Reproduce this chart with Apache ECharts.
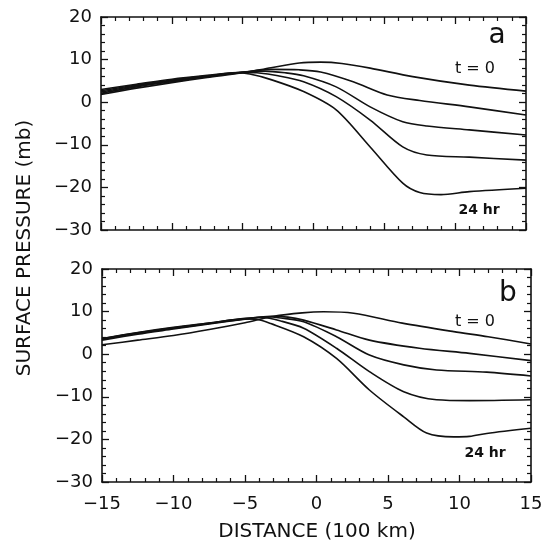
<!DOCTYPE html>
<html>
<head>
<meta charset="utf-8">
<script src="https://cdn.jsdelivr.net/npm/echarts@6/dist/echarts.min.js"></script>
<style>
html,body{margin:0;padding:0;background:#fff;}
#chart{width:551px;height:544px;}
</style>
</head>
<body>
<div id="chart"></div>
<script>
// Panel (a) curves: [distance (100 km), surface pressure (mb)]
const aT0  = [[-15,1.8],[-12.5,3.3],[-10,4.6],[-7.5,5.8],[-5,6.9],[-3,8.1],[-1,9.2],[0.5,9.4],[2,9.1],[4,8.0],[7,6.0],[11,4.0],[15,2.6]];
const aT6  = [[-15,2.1],[-12.5,3.6],[-10,4.8],[-7.5,6.0],[-5,7.0],[-3,7.7],[-1,7.6],[0.5,7.1],[2.8,4.8],[5.2,1.7],[7.5,0.4],[11,-1.1],[15,-3.0]];
const aT12 = [[-15,2.4],[-12.5,3.8],[-10,5.0],[-7.5,6.1],[-5,7.1],[-3.5,7.3],[-2,6.9],[-0.7,6.2],[1.6,3.6],[4,-1.1],[6.3,-4.6],[8,-5.6],[11,-6.5],[15,-7.7]];
const aT18 = [[-15,2.7],[-12.5,4.0],[-10,5.2],[-7.5,6.2],[-5,7.0],[-4,6.9],[-2.5,6.2],[-0.7,4.8],[1.6,1.3],[4,-4.2],[6.3,-10.5],[8,-12.4],[11,-12.9],[15,-13.6]];
const aT24 = [[-15,3.0],[-12.5,4.2],[-10,5.4],[-7.5,6.3],[-5.5,6.9],[-4.5,6.6],[-3,5.3],[-0.7,2.5],[1.6,-1.8],[4,-10.5],[6.3,-19.0],[7.5,-21.2],[9,-21.7],[11,-21.0],[15,-20.2]];

// Panel (b) curves
const bT0  = [[-15,2.2],[-12.5,3.3],[-10,4.4],[-7.5,5.8],[-5,7.4],[-3,8.9],[-1,9.7],[0.5,9.95],[2.6,9.6],[6,7.3],[9.6,5.3],[12,4.1],[15,2.4]];
const bT6  = [[-15,3.3],[-12.5,4.7],[-10,5.9],[-7.5,7.1],[-5,8.2],[-3.2,8.9],[-2,8.7],[-0.9,8.0],[1.4,5.7],[3.7,3.3],[7.2,1.4],[10.7,0.2],[15,-1.5]];
const bT12 = [[-15,3.5],[-12.5,4.9],[-10,6.1],[-7.5,7.2],[-5,8.3],[-3.5,8.8],[-2.5,8.5],[-0.9,7.6],[1.4,4.1],[3.7,-0.2],[6.1,-2.5],[8.4,-3.7],[11.9,-4.2],[15,-5.1]];
const bT18 = [[-15,3.6],[-12.5,5.0],[-10,6.2],[-7.5,7.3],[-5,8.4],[-3.8,8.6],[-2.5,7.8],[-0.9,6.1],[1.4,1.4],[3.7,-4.1],[6.1,-8.8],[8.4,-10.7],[10.7,-10.9],[15,-10.7]];
const bT24 = [[-15,3.7],[-12.5,5.1],[-10,6.3],[-7.5,7.3],[-5,8.3],[-4.2,8.2],[-3.2,7.2],[-0.9,4.1],[1.4,-1.0],[3.7,-8.4],[6.1,-14.7],[7.7,-18.5],[9.6,-19.4],[10.7,-19.3],[11.9,-18.6],[15,-17.4]];

const xRange = {min: -15, max: 15, interval: 5};
const yRange = {min: -30, max: 20, interval: 10};
const panelLabels = ['a', 'b'];
const startLabel = 't = 0';
const endLabel = '24 hr';
const xTitle = 'DISTANCE (100 km)';
const yTitle = 'SURFACE PRESSURE (mb)';

const INK = '#111';
const FONT = 'DejaVu Sans';
const fmt = v => String(v).replace('-', '\u2212');

function xAx(grid, pos, showLabel) {
  return {
    type: 'value', gridIndex: grid, position: pos,
    min: xRange.min, max: xRange.max, interval: xRange.interval,
    axisLine: {show: true, onZero: false, lineStyle: {color: INK, width: 1.6}},
    axisTick: {show: true, inside: true, length: 7, lineStyle: {color: INK, width: 1.3}},
    minorTick: {show: true, splitNumber: 5, length: 4, lineStyle: {color: INK, width: 1.2}},
    splitLine: {show: false},
    axisLabel: {show: showLabel, formatter: fmt, margin: 13, color: INK, fontFamily: FONT, fontSize: 18},
    z: 5
  };
}
function yAx(grid, pos, showLabel) {
  return {
    type: 'value', gridIndex: grid, position: pos,
    min: yRange.min, max: yRange.max, interval: yRange.interval,
    axisLine: {show: true, onZero: false, lineStyle: {color: INK, width: 1.6}},
    axisTick: {show: true, inside: true, length: 7, lineStyle: {color: INK, width: 1.3}},
    minorTick: {show: true, splitNumber: 5, length: 4, lineStyle: {color: INK, width: 1.2}},
    splitLine: {show: false},
    axisLabel: {show: showLabel, formatter: fmt, margin: 9, color: INK, fontFamily: FONT, fontSize: 18},
    z: 5
  };
}
function line(data, idx) {
  return {
    type: 'line', data: data, xAxisIndex: idx * 2, yAxisIndex: idx * 2,
    smooth: 0.3, symbol: 'none', showSymbol: false, silent: true,
    lineStyle: {color: INK, width: 1.6}
  };
}

const chart = echarts.init(document.getElementById('chart'), null, {renderer: 'canvas'});
chart.setOption({
  backgroundColor: '#fff',
  animation: false,
  grid: [
    {left: 101, top: 17, width: 425, height: 213, containLabel: false, outerBoundsMode: 'none'},
    {left: 102, top: 269, width: 429, height: 213, containLabel: false, outerBoundsMode: 'none'}
  ],
  xAxis: [xAx(0, 'bottom', false), xAx(0, 'top', false), xAx(1, 'bottom', true), xAx(1, 'top', false)],
  yAxis: [yAx(0, 'left', true), yAx(0, 'right', false), yAx(1, 'left', true), yAx(1, 'right', false)],
  series: [
    line(aT0, 0), line(aT6, 0), line(aT12, 0), line(aT18, 0), line(aT24, 0),
    line(bT0, 1), line(bT6, 1), line(bT12, 1), line(bT18, 1), line(bT24, 1)
  ],
  graphic: [
    {type: 'text', x: 25, y: 248, rotation: Math.PI / 2, style: {text: yTitle, fill: INK, font: '20px "DejaVu Sans"', textAlign: 'center', textVerticalAlign: 'middle'}},
    {type: 'text', x: 317, y: 532, style: {text: xTitle, fill: INK, font: '20px "DejaVu Sans"', textAlign: 'center', textVerticalAlign: 'middle'}},
    {type: 'text', x: 497, y: 36, style: {text: panelLabels[0], fill: INK, font: '28px "DejaVu Sans"', textAlign: 'center', textVerticalAlign: 'middle'}},
    {type: 'text', x: 508, y: 294, style: {text: panelLabels[1], fill: INK, font: '28px "DejaVu Sans"', textAlign: 'center', textVerticalAlign: 'middle'}},
    {type: 'text', x: 475, y: 69, style: {text: startLabel, fill: INK, font: '16px "DejaVu Sans"', textAlign: 'center', textVerticalAlign: 'middle'}},
    {type: 'text', x: 479, y: 210, style: {text: endLabel, fill: INK, font: 'bold 14px "DejaVu Sans"', textAlign: 'center', textVerticalAlign: 'middle'}},
    {type: 'text', x: 475, y: 322, style: {text: startLabel, fill: INK, font: '16px "DejaVu Sans"', textAlign: 'center', textVerticalAlign: 'middle'}},
    {type: 'text', x: 485, y: 453, style: {text: endLabel, fill: INK, font: 'bold 14px "DejaVu Sans"', textAlign: 'center', textVerticalAlign: 'middle'}}
  ]
});
</script>
</body>
</html>
